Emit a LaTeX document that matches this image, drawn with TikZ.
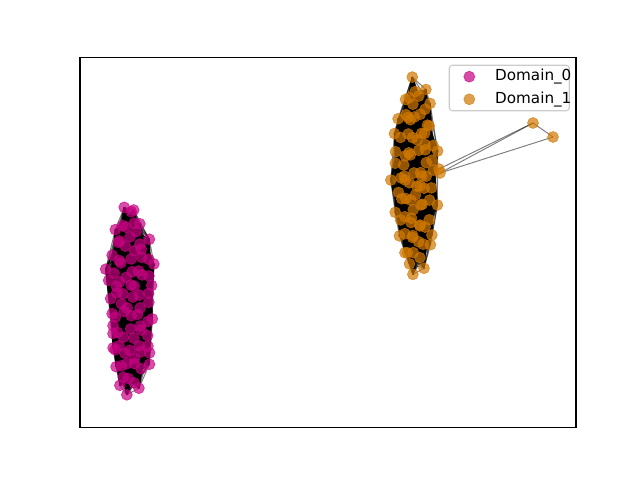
\documentclass[tikz,border=0pt]{standalone}
\usepackage{fontspec}
\setmainfont{DejaVu Sans}
\usetikzlibrary{positioning}
\definecolor{domzero}{RGB}{200,0,130}
\definecolor{domone}{RGB}{208,120,0}
\definecolor{legedge}{RGB}{204,204,204}
\tikzset{
  ptA/.style={circle, inner sep=0pt, minimum size=2.75mm, fill=domzero, draw=domzero,
    line width=0.4pt, fill opacity=0.7, draw opacity=0.7},
  ptB/.style={ptA, fill=domone, draw=domone},
  edge/.style={black, draw opacity=0.5, line width=0.7pt},
  legtext/.style={inner sep=0pt, anchor=west, font=\fontsize{10.8pt}{13pt}\selectfont},
}
\pgfdeclarelayer{bg}
\pgfsetlayers{bg,main}

\begin{document}
\begin{tikzpicture}[x=0.025cm, y=-0.025cm]
  \begin{pgfonlayer}{bg}
    \fill[white] (0,0) rectangle (640,480);
  \end{pgfonlayer}
  \useasboundingbox (0,0) rectangle (640,480);

  % Domain_0 cluster (left)
  \pgfmathsetseed{31}
  \foreach \i in {0,...,84}{
    \pgfmathsetmacro\rA{sqrt((\i+0.5)/85)}
    \pgfmathsetmacro\aA{137.508*\i}
    \pgfmathsetmacro\jx{6*rnd-3}
    \pgfmathsetmacro\jy{8*rnd-4}
    \node[ptA] (a\i) at ({130.5+24*\rA*cos(\aA)+\jx},{301+97*\rA*sin(\aA)+\jy}) {};
  }
  % Domain_1 cluster (right)
  \foreach \i in {0,...,84}{
    \pgfmathsetmacro\rA{sqrt((\i+0.5)/85)}
    \pgfmathsetmacro\aA{137.508*\i+60}
    \pgfmathsetmacro\jx{6*rnd-3}
    \pgfmathsetmacro\jy{8*rnd-4}
    \node[ptB] (b\i) at ({415+22*\rA*cos(\aA)+\jx},{176+99*\rA*sin(\aA)+\jy}) {};
  }
  \node[ptB] (hub1) at (439,169) {};
  \node[ptB] (hub2) at (440,173) {};
  \node[ptB] (out1) at (533,123) {};
  \node[ptB] (out2) at (553,137) {};

  % edges behind the nodes
  \begin{pgfonlayer}{bg}
    \foreach \i in {0,...,84}{
      \draw[edge] \foreach \j [evaluate=\j as \k using {int(mod(\i+\j,85))}] in {1,...,42}
        {(a\i.center) -- (a\k.center)};
      \draw[edge] \foreach \j [evaluate=\j as \k using {int(mod(\i+\j,85))}] in {1,...,42}
        {(b\i.center) -- (b\k.center)};
    }
    \draw[edge] (hub1.center) -- (out1.center);
    \draw[edge] (hub2.center) -- (out1.center);
    \draw[edge] (hub2.center) -- (out2.center);
    \draw[edge] (out1.center) -- (out2.center);
  \end{pgfonlayer}

  % axes frame
  \draw[line width=0.8pt] (80,57.6) rectangle (576,427.2);

  % legend
  \draw[legedge, line width=0.8pt, fill=white, fill opacity=0.8, rounded corners=2pt]
    (449.3,65.3) rectangle (569.3,110.7);
  \node[ptA] (keyA) at (469.3,76.7) {};
  \node[ptB] (keyB) at (469.3,99.3) {};
  \node[legtext, right=6.4mm of keyA.center] (labA) {Domain\_0};
  \node[legtext, right=6.4mm of keyB.center] (labB) {Domain\_1};
\end{tikzpicture}
\end{document}
